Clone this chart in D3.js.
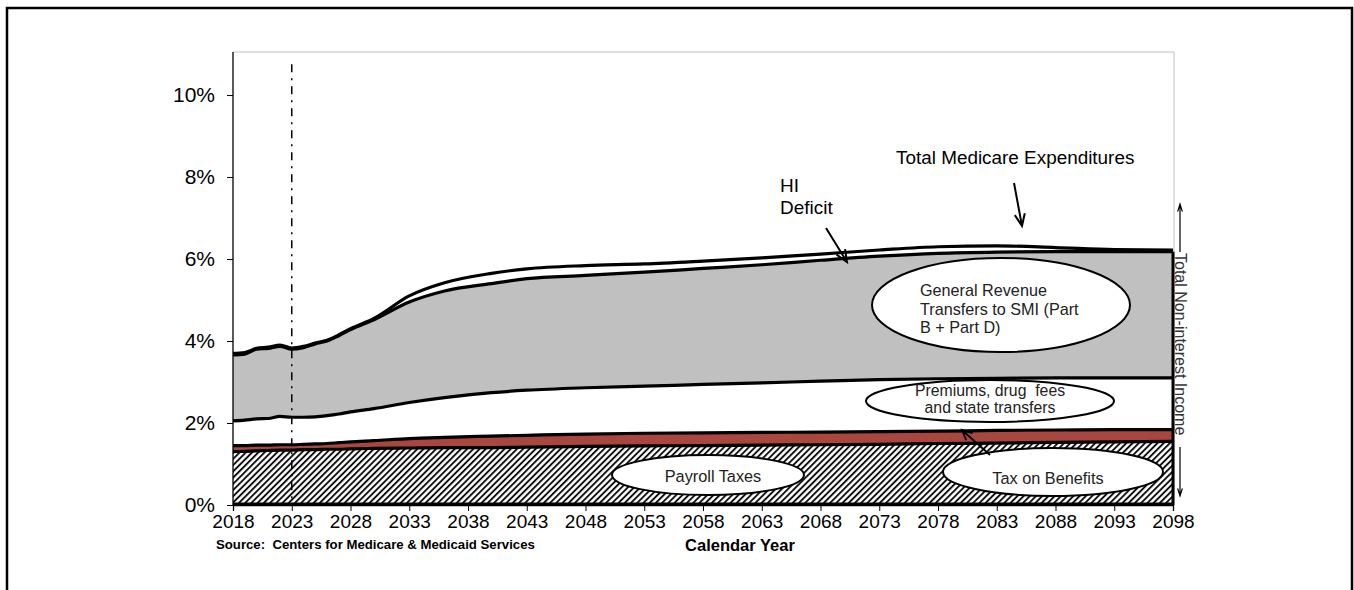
<!DOCTYPE html>
<html>
<head>
<meta charset="utf-8">
<script src="https://cdnjs.cloudflare.com/ajax/libs/d3/7.8.5/d3.min.js"></script>
<style>
  body { margin: 0; background: #fff; }
  svg text { font-family: "Liberation Sans", Arial, sans-serif; fill: #000; }
</style>
</head>
<body>
<script>
var years = [2018, 2019, 2020, 2021, 2022, 2023, 2024, 2025, 2026, 2027, 2028, 2030, 2033, 2036, 2040,
             2043, 2048, 2053, 2058, 2063, 2068, 2073, 2078, 2083, 2088, 2093, 2098];

// % of GDP
var totalExpenditures = [3.70, 3.72, 3.82, 3.85, 3.90, 3.83, 3.87, 3.95, 4.02, 4.15, 4.30, 4.55, 5.10, 5.42, 5.65,
                         5.76, 5.84, 5.88, 5.95, 6.03, 6.12, 6.22, 6.30, 6.32, 6.28, 6.23, 6.22];
var totalIncome = [3.66, 3.68, 3.80, 3.82, 3.87, 3.80, 3.84, 3.93, 4.00, 4.13, 4.28, 4.52, 4.95, 5.22, 5.40,
                   5.52, 5.60, 5.68, 5.77, 5.86, 5.97, 6.07, 6.14, 6.17, 6.18, 6.18, 6.18];
var premiumsTop = [2.05, 2.07, 2.10, 2.11, 2.16, 2.14, 2.14, 2.15, 2.18, 2.22, 2.27, 2.35, 2.50, 2.62, 2.74,
                   2.80, 2.86, 2.90, 2.94, 2.98, 3.02, 3.06, 3.08, 3.09, 3.10, 3.10, 3.10];
var taxBenefitsTop = [1.45, 1.45, 1.46, 1.46, 1.47, 1.47, 1.48, 1.49, 1.50, 1.52, 1.54, 1.57, 1.62, 1.65, 1.68,
                      1.70, 1.73, 1.75, 1.76, 1.77, 1.78, 1.79, 1.80, 1.82, 1.83, 1.84, 1.84];
var payrollTop = [1.30, 1.31, 1.32, 1.33, 1.34, 1.34, 1.35, 1.35, 1.36, 1.36, 1.37, 1.38, 1.39, 1.40, 1.40,
                  1.41, 1.43, 1.44, 1.45, 1.46, 1.47, 1.48, 1.50, 1.51, 1.53, 1.54, 1.55];

var yTicks = [0, 2, 4, 6, 8, 10];
var xTicks = d3.range(2018, 2099, 5);
var markerYear = 2023;

var rows = years.map(function(yr, i) {
  return {year: yr, exp: totalExpenditures[i], inc: totalIncome[i], prem: premiumsTop[i],
          tax: taxBenefitsTop[i], pay: payrollTop[i]};
});

var W = 1354, H = 590;
var margin = {top: 52, left: 233, right: 181, bottom: 85};

var svg = d3.select("body").append("svg")
  .attr("width", W)
  .attr("height", H);

var x = d3.scaleLinear().domain([2018, 2098]).range([margin.left, W - margin.right]);
var y = d3.scaleLinear().domain([0, 11.05]).range([H - margin.bottom, margin.top]);

var defs = svg.append("defs");
defs.append("pattern")
  .attr("id", "hatch")
  .attr("patternUnits", "userSpaceOnUse")
  .attr("width", 4.4)
  .attr("height", 4.4)
  .attr("patternTransform", "rotate(45)")
  .append("line")
  .attr("x1", 1).attr("y1", 0).attr("x2", 1).attr("y2", 4.4)
  .attr("stroke", "#000")
  .attr("stroke-width", 1.8);

// outer frame (open at the bottom)
svg.append("path")
  .attr("d", "M7,590 L7,8 L1352,8 L1352,590")
  .attr("fill", "none")
  .attr("stroke", "#000")
  .attr("stroke-width", 2.5);

// light plot border
svg.append("path")
  .attr("d", "M" + x(2018) + "," + y(11.05) + " L" + (x(2098) + 1) + "," + y(11.05) + " L" + (x(2098) + 1) + "," + y(0))
  .attr("fill", "none")
  .attr("stroke", "#c0c0c0")
  .attr("stroke-width", 1);

var curve = d3.curveMonotoneX;

function band(lo, hi) {
  return d3.area().curve(curve)
    .x(function(d) { return x(d.year); })
    .y0(function(d) { return y(lo(d)); })
    .y1(function(d) { return y(hi(d)); });
}

svg.append("path").datum(rows)
  .attr("fill", "url(#hatch)")
  .attr("d", band(function() { return 0; }, function(d) { return d.pay; }));

svg.append("path").datum(rows)
  .attr("fill", "#a8463f")
  .attr("d", band(function(d) { return d.pay; }, function(d) { return d.tax; }));

svg.append("path").datum(rows)
  .attr("fill", "#fff")
  .attr("d", band(function(d) { return d.tax; }, function(d) { return d.prem; }));

svg.append("path").datum(rows)
  .attr("fill", "#c0c0c0")
  .attr("d", band(function(d) { return d.prem; }, function(d) { return d.inc; }));

["pay", "tax", "prem", "inc", "exp"].forEach(function(k) {
  svg.append("path").datum(rows)
    .attr("fill", "none")
    .attr("stroke", "#000")
    .attr("stroke-width", 3.2)
    .attr("stroke-linejoin", "round")
    .attr("d", d3.line().curve(curve)
      .x(function(d) { return x(d.year); })
      .y(function(d) { return y(d[k]); }));
});

// right edge and floor of the stacked areas
svg.append("line")
  .attr("x1", x(2098)).attr("x2", x(2098))
  .attr("y1", y(0)).attr("y2", y(totalIncome[totalIncome.length - 1]))
  .attr("stroke", "#000").attr("stroke-width", 3);
svg.append("line")
  .attr("x1", x(2018)).attr("x2", x(2098))
  .attr("y1", y(0) - 1).attr("y2", y(0) - 1)
  .attr("stroke", "#000").attr("stroke-width", 3);

// axes
var yAxis = svg.append("g")
  .attr("transform", "translate(" + margin.left + ",0)")
  .call(d3.axisLeft(y).tickValues(yTicks).tickSize(6).tickPadding(12)
    .tickFormat(function(d) { return d + "%"; }));
var xAxis = svg.append("g")
  .attr("transform", "translate(0," + y(0) + ")")
  .call(d3.axisBottom(x).tickValues(xTicks).tickSize(6).tickPadding(4)
    .tickFormat(d3.format("d")));

[yAxis, xAxis].forEach(function(g) {
  g.select(".domain").attr("stroke", "#000").attr("stroke-width", 1.3);
  g.selectAll(".tick line").attr("stroke", "#000");
  g.selectAll(".tick text").attr("fill", "#000")
    .style("font-family", "'Liberation Sans', Arial, sans-serif");
});
yAxis.selectAll(".tick text").attr("font-size", 21);
xAxis.selectAll(".tick text").attr("font-size", 19);
yAxis.select(".domain").attr("d", "M-0," + y(11.05) + "V" + y(0));

// 2023 marker
svg.append("line")
  .attr("x1", x(markerYear)).attr("x2", x(markerYear))
  .attr("y1", y(10.75)).attr("y2", y(0))
  .attr("stroke", "#000")
  .attr("stroke-width", 1.5)
  .attr("stroke-dasharray", "8,6,2,6");

// callouts
function ellipse(cx, cy, rx, ry) {
  svg.append("ellipse")
    .attr("cx", cx).attr("cy", cy).attr("rx", rx).attr("ry", ry)
    .attr("fill", "#fff").attr("stroke", "#000").attr("stroke-width", 2);
}

function label(lines, tx, ty, size, anchor, lh, color) {
  var t = svg.append("text")
    .attr("x", tx).attr("y", ty)
    .attr("font-size", size)
    .attr("text-anchor", anchor || "start")
    .style("fill", color || "#000");
  lines.forEach(function(s, i) {
    t.append("tspan").attr("x", tx).attr("dy", i ? (lh || size * 1.2) : 0).text(s);
  });
}

function arrow(x1, y1, x2, y2, len, spread, w) {
  var a = Math.atan2(y2 - y1, x2 - x1);
  var p = d3.path();
  p.moveTo(x1, y1); p.lineTo(x2, y2);
  p.moveTo(x2 - len * Math.cos(a - spread), y2 - len * Math.sin(a - spread));
  p.lineTo(x2, y2);
  p.lineTo(x2 - len * Math.cos(a + spread), y2 - len * Math.sin(a + spread));
  svg.append("path").attr("d", p.toString())
    .attr("fill", "none").attr("stroke", "#000").attr("stroke-width", w || 2);
}

ellipse(1001, 305, 129, 47);
label(["General Revenue", "Transfers to SMI (Part", "B + Part D)"], 920, 296, 16.2, "start", 18.5, "#222");

ellipse(990, 401, 124, 21);
label(["Premiums, drug\u00a0 fees", "and state transfers"], 990, 396, 15.8, "middle", 17, "#222");

ellipse(708, 475, 96, 20);
label(["Payroll Taxes"], 713, 482, 16.3, "middle", null, "#222");

ellipse(1053, 472, 110, 24);
label(["Tax on Benefits"], 1048, 484, 16.3, "middle", null, "#222");

label(["HI", "Deficit"], 780, 192, 19, "start", 22);
arrow(826, 228, 847, 262, 13, 0.4, 2);

label(["Total Medicare Expenditures"], 896, 164, 18.9, "start");
arrow(1014, 183, 1022, 226, 13, 0.4, 2);

arrow(990, 455, 962, 430, 11, 0.45, 1.8);

// total non-interest income bracket
svg.append("text")
  .attr("transform", "translate(1175,253) rotate(90)")
  .attr("font-size", 16)
  .style("fill", "#333")
  .text("Total Non-interest Income");
arrow(1180, 252, 1180, 204, 8, 0.3, 1.2);
arrow(1180, 447, 1180, 496, 8, 0.3, 1.2);

svg.append("text")
  .attr("x", 216).attr("y", 549)
  .attr("font-size", 13.2).attr("font-weight", "bold")
  .text("Source:\u00a0 Centers for Medicare & Medicaid Services");

svg.append("text")
  .attr("x", 740).attr("y", 551)
  .attr("font-size", 16.5).attr("font-weight", "bold")
  .attr("text-anchor", "middle")
  .text("Calendar Year");
</script>
</body>
</html>
